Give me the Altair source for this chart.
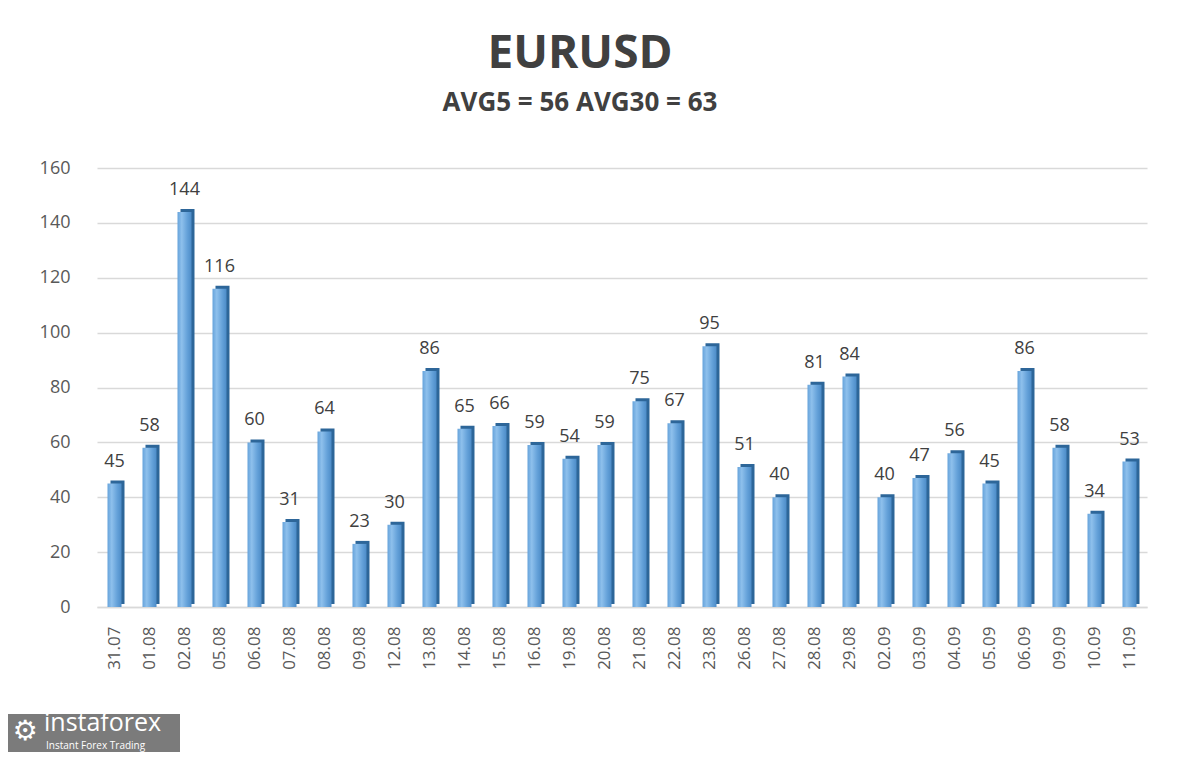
import altair as alt
import pandas as pd

dates = ["31.07", "01.08", "02.08", "05.08", "06.08", "07.08", "08.08", "09.08", "12.08", "13.08",
         "14.08", "15.08", "16.08", "19.08", "20.08", "21.08", "22.08", "23.08", "26.08", "27.08",
         "28.08", "29.08", "02.09", "03.09", "04.09", "05.09", "06.09", "09.09", "10.09", "11.09"]
values = [45, 58, 144, 116, 60, 31, 64, 23, 30, 86,
          65, 66, 59, 54, 59, 75, 67, 95, 51, 40,
          81, 84, 40, 47, 56, 45, 86, 58, 34, 53]
title_text = "EURUSD"
subtitle_text = "AVG5 = 56 AVG30 = 63"

df = pd.DataFrame({"date": dates, "value": values})

FONT = "Open Sans"
x_enc = alt.X("date:N", sort=None, title=None,
              scale=alt.Scale(paddingInner=0.6, paddingOuter=0.3),
              axis=alt.Axis(labelAngle=-90, labelFontSize=17, labelColor="#595959",
                            labelFont=FONT, labelPadding=19, ticks=False, domain=True,
                            domainColor="#d9d9d9", domainWidth=1.5, grid=False))
y_enc = alt.Y("value:Q", title=None,
              scale=alt.Scale(domain=[0, 160], nice=False),
              axis=alt.Axis(values=list(range(0, 161, 20)), labelFontSize=18,
                            labelColor="#595959", labelFont=FONT, labelPadding=27,
                            ticks=False, domain=False, gridColor="#d9d9d9",
                            gridWidth=1.5))

base = alt.Chart(df)

side = base.mark_bar(color="#2d6699", xOffset=3, yOffset=-3).encode(x=x_enc, y=y_enc)

grad = alt.Gradient(
    gradient="linear",
    stops=[alt.GradientStop(color="#66a3db", offset=0),
           alt.GradientStop(color="#8ec0ec", offset=0.3),
           alt.GradientStop(color="#64a1d9", offset=0.7),
           alt.GradientStop(color="#4d8cc8", offset=1)],
    x1=0, x2=1, y1=0, y2=0)

front = base.mark_bar(color=grad).encode(x=x_enc, y=y_enc)

labels = base.mark_text(dy=-22, fontSize=18, color="#404040", font=FONT).encode(
    x=x_enc, y=y_enc, text="value:Q")

logo_df = pd.DataFrame({"k": [0]})
logo_rect = alt.Chart(logo_df).mark_rect(color="#7b7b7b").encode(
    x=alt.value(-97), x2=alt.value(83), y=alt.value(546), y2=alt.value(600))
logo_gear = alt.Chart(logo_df).mark_text(text="⚙", fontSize=28, color="white",
                                         font="DejaVu Sans", align="center",
                                         baseline="middle").encode(
    x=alt.value(-72), y=alt.value(564))
logo_main = alt.Chart(logo_df).mark_text(text="instaforex", fontSize=25, color="white",
                                         font=FONT, align="left",
                                         baseline="alphabetic").encode(
    x=alt.value(-53), y=alt.value(563))
logo_sub = alt.Chart(logo_df).mark_text(text="Instant Forex Trading", fontSize=10,
                                        color="white", font=FONT, align="left",
                                        baseline="alphabetic").encode(
    x=alt.value(-51), y=alt.value(581))

chart = alt.layer(side, front, labels, logo_rect, logo_gear, logo_main, logo_sub).properties(
    width=1050, height=439,
    title=alt.TitleParams(text=title_text, subtitle=subtitle_text, anchor="middle",
                          dx=-42, fontSize=46, subtitleFontSize=26, fontWeight="bold",
                          subtitleFontWeight="bold", color="#404040",
                          subtitleColor="#404040", font=FONT, subtitleFont=FONT,
                          offset=42, subtitlePadding=12),
    autosize=alt.AutoSizeParams(type="none"),
    padding={"left": 89, "top": 160, "right": 45, "bottom": 145},
).configure(background="white").configure_view(stroke="transparent")

chart.save("out.html", embed_options={"renderer": "svg", "actions": False})
